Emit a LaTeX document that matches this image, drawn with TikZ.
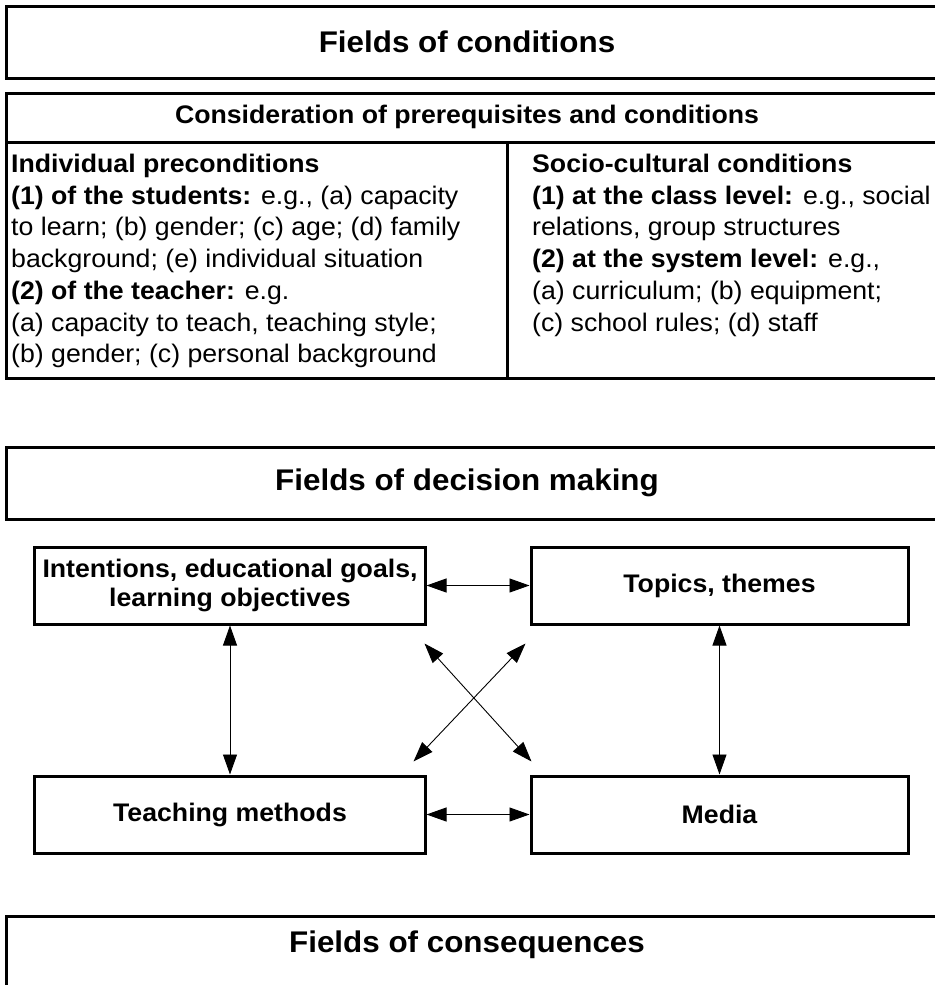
\documentclass[tikz,border=0pt]{standalone}
\usepackage{fontspec}
\setmainfont[FakeStretch=1.05]{Liberation Sans}
\usetikzlibrary{arrows.meta}
\begin{document}
\begin{tikzpicture}[x=1bp,y=-1bp,line join=miter,
  >={Triangle[length=20bp,width=14bp]},
  frame/.style={draw,line width=3bp},
  fieldtitle/.style={font=\fontsize{30}{36}\selectfont\bfseries},
  cellhead/.style={font=\fontsize{25.5}{31.8}\selectfont\bfseries},
  celltext/.style={font=\fontsize{25.5}{31.8}\selectfont,align=left,inner sep=0pt,anchor=north west},
  fieldbox/.style={draw,line width=3bp,minimum height=77bp,align=center,
    font=\fontsize{25.5}{29}\selectfont\bfseries},
  link/.style={<->,line width=0.9bp}]
\clip (0,0) rectangle (935,985);
%%
% Fields of conditions
\draw[frame] (6,6) rectangle (945,78);
\node[fieldtitle] (cond) at (467,42) {Fields of conditions};
% Consideration table
\draw[frame] (6,93) rectangle (945,378);
\draw[frame] (6,142) -- (945,142);
\draw[frame] (507,142) -- (507,378);
\node[cellhead] (cons) at (467,117) {Consideration of prerequisites and conditions};
\node[celltext] (indiv) at (11,154) {\textbf{Individual preconditions}\\
  \textbf{(1) of the students:} e.g., (a) capacity\\
  to learn; (b) gender; (c) age; (d) family\\
  background; (e) individual situation\\
  \textbf{(2) of the teacher:} e.g.\\
  (a) capacity to teach, teaching style;\\
  (b) gender; (c) personal background};
\node[celltext] (socio) at (532,154) {\textbf{Socio-cultural conditions}\\
  \textbf{(1) at the class level:} e.g., social\\
  relations, group structures\\
  \textbf{(2) at the system level:} e.g.,\\
  (a) curriculum; (b) equipment;\\
  (c) school rules; (d) staff};
%%
% Fields of decision making
\draw[frame] (6,447) rectangle (945,519);
\node[fieldtitle] (dec) at (467,483) {Fields of decision making};
\node[fieldbox,minimum width=390bp] (goals) at (230,585.5) {Intentions, educational goals,\\learning objectives};
\node[fieldbox,minimum width=377bp] (topics) at (719.5,585.5) {Topics, themes};
\node[fieldbox,minimum width=390bp] (methods) at (230,814.5) {Teaching methods};
\node[fieldbox,minimum width=377bp] (media) at (719.5,814.5) {Media};
% Edges
\draw[link] (goals) -- (topics);
\draw[link] (methods) -- (media);
\draw[link] (goals) -- (methods);
\draw[link] (topics) -- (media);
\draw[link] ([shift={(-2,18)}]goals.south east) -- ([shift={(2,-13)}]media.north west);
\draw[link] ([shift={(-4,18)}]topics.south west) -- ([shift={(-13,-13)}]methods.north east);
%%
% Fields of consequences
\draw[frame] (6,916) rectangle (945,1000);
\node[fieldtitle] (csq) at (467,945) {Fields of consequences};
%
\end{tikzpicture}
\end{document}
